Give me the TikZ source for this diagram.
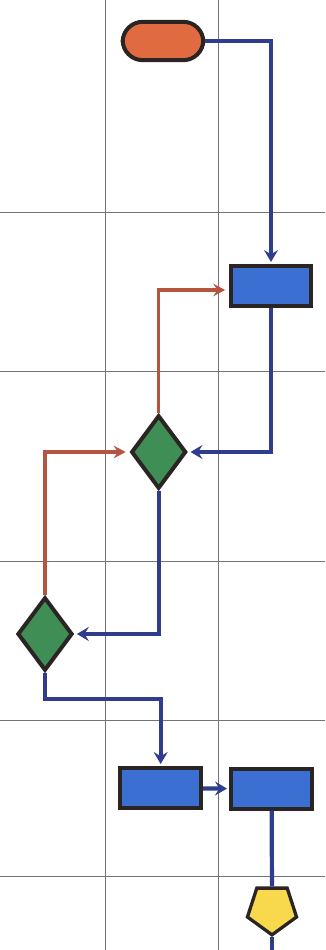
\documentclass[tikz,border=0pt]{standalone}
\usetikzlibrary{shapes}
\usetikzlibrary{positioning}
\usetikzlibrary{arrows.meta}
\definecolor{startc}{HTML}{E06B40}
\definecolor{stepc}{HTML}{3B6FD2}
\definecolor{testc}{HTML}{3E8E55}
\definecolor{endc}{HTML}{F8D84C}
\definecolor{navy}{HTML}{2F3D8C}
\definecolor{rust}{HTML}{B5553F}
\definecolor{rim}{HTML}{2A2422}
\tikzset{
    gridline/.style = {draw=black!55,line width=0.6pt},
    startnode/.style = {rectangle, rounded corners=0.6cm, line width=3.4pt, draw=rim, minimum width=2.42cm, minimum height=1.15cm, fill=startc},
    stepnode/.style = {rectangle, line width=3.4pt, draw=rim, minimum width=2.42cm, minimum height=1.18cm, fill=stepc},
    testnode/.style = {diamond, line width=3.4pt, draw=rim, inner sep=0pt, minimum width=1.65cm, minimum height=2.2cm, fill=testc},
    endnode/.style = {regular polygon, regular polygon sides=5, shape border rotate=180, line width=2.8pt, draw=rim, inner sep=0pt, minimum size=1.55cm, fill=endc},
    edgeno/.style = {-{Stealth[length=3.6mm,width=4.2mm,inset=1.3mm]},line width=3.6pt,navy,shorten >=2pt}, % main flow
    edgeyes/.style = {-{Stealth[length=3.6mm,width=3.8mm,inset=1.3mm]},line width=2.7pt,rust,shorten >=3pt}, % back loop
    edgeplain/.style = {line width=3.6pt,navy}
}
\begin{document}
\begin{tikzpicture}
  \useasboundingbox (0,0) rectangle (9.75,-28.5);
  % grid
  \foreach \x in {3.15,6.54}
    \draw[gridline] (\x,0) -- (\x,-28.5);
  \foreach \y in {-6.36,-11.13,-16.83,-21.6,-26.28}
    \draw[gridline] (0,\y) -- (9.75,\y);

  \node[startnode] at (4.89,-1.23) (start) {};
  \node[stepnode] at (8.13,-8.58) (s1) {};
  \node[testnode] at (4.76,-13.56) (t1) {};
  \node[testnode] at (1.35,-19.02) (t2) {};
  \node[stepnode] at (4.82,-23.64) (s2) {};
  \node[stepnode] at (8.15,-23.67) (s3) {};
  \node[endnode] at (8.16,-27.27) (stop) {};
  \coordinate (out) at (8.16,-28.5);

  \draw[edgeno] (start) -| (s1);
  \draw[edgeyes] (t1) |- ([yshift=-0.12cm]s1.west);
  \draw[edgeno] (s1) |- (t1);
  \draw[edgeyes] (t2) |- (t1);
  \draw[edgeno] (t1) |- (t2);
  \draw[edgeno] (t2.south) -- ++(0,-0.78) -| (s2.north);
  \draw[edgeno] (s2) -- (s3);
  \draw[edgeplain] (s3) -- (stop);
  \draw[edgeplain] (stop) -- (out);
\end{tikzpicture}
\end{document}
